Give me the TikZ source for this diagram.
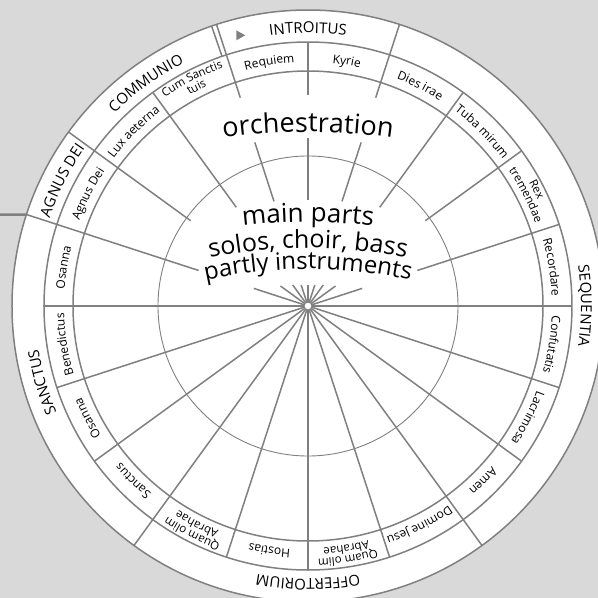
\documentclass[tikz,border=0pt]{standalone}
\usepackage{fontspec}
\setmainfont{Open Sans}
\usetikzlibrary{decorations.text}

\definecolor{rimgray}{RGB}{128,128,128}
\definecolor{bggray}{RGB}{217,217,217}

\tikzset{
    rim/.style={draw=rimgray, line width=1.5},
    thinrim/.style={draw=rimgray, line width=0.9},
}

% text along a circle round the hub, read clockwise
\newcommand{\ringtext}[4]{%
    \path[decorate, decoration={text along path, text align=center,
        text={|\fontsize{#3}{#3}\selectfont|#4}}]
        ({#1+40}:#2) arc[start angle={#1+40}, end angle={#1-40}, radius=#2];}

% text along a wide arc, its centre far below the hub
\newcommand{\archtext}[3]{%
    \path[decorate, decoration={text along path, text align=center,
        text={|\fontsize{#2}{#2}\selectfont|#3}}]
        (0,-441) ++(106:#1) arc[start angle=106, end angle=74, radius=#1];}

\begin{document}
\begin{tikzpicture}[x=1pt, y=1pt]
        % Background
        \fill[bggray] (-308,-292) rectangle (290,306);
        \useasboundingbox (-308,-292) rectangle (290,306);

        % Pointer from the left edge
        \coordinate (pin) at (162:296);
        \draw[rimgray, line width=2.5] (-312,91.5) -- (pin);

        % Rings
        \draw[rim, fill=white] (0,0) circle[radius=296];
        \draw[rim] (0,0) circle[radius=264];
        \draw[rim] (0,0) circle[radius=235];
        \draw[thinrim] (0,0) circle[radius=150];

        % Spokes, lower half
        \foreach \a in {0,180,198,216,252,270,288,324,342}
            \draw[rim] (0,0) -- (\a:264);
        \foreach \a in {234,306}
            \draw[rim] (0,0) -- (\a:296);

        % Spokes, upper half (broken by the text)
        \foreach \a/\rin/\rout/\rend in {18/57/115/264, 36/34/145/264, 54/26/122/264,
                126/26/122/264, 144/34/145/296, 162/57/115/296} {
            \draw[rim] (0,0) -- (\a:\rin);
            \draw[rim] (\a:\rout) -- (\a:\rend);
        }
        \foreach \a in {72,108} {
            \draw[rim] (0,0) -- (\a:22);
            \draw[rim] (\a:110) -- (\a:172);
            \draw[rim] (\a:219) -- (\a:296);
        }
        \draw[rim] (0,0) -- (90:21);
        \draw[rim] (90:106) -- (90:168);
        \draw[rim] (90:211) -- (90:264);

        % Start mark
        \draw[rim] (109:264) -- (109:296);
        \fill[rimgray] (104:280) ++(-4,4) -- ++(0,-10) -- ++(9,5) -- cycle;

        % Hub
        \draw[rim, fill=white, line width=1] (0,0) circle[radius=4];

        % Sections
        \ringtext{90}{273}{15}{INTROITUS}
        \ringtext{0}{273}{15}{SEQUENTIA}
        \ringtext{-90}{273}{15}{OFFERTORIUM}
        \ringtext{-164}{273}{15}{SANCTUS}
        \ringtext{153}{273}{15}{AGNUS DEI}
        \ringtext{126}{273}{15}{COMMUNIO}

        % Parts
        \ringtext{99}{244}{12}{Requiem}
        \ringtext{81}{244}{12}{Kyrie}
        \ringtext{63}{244}{12}{Dies irae}
        \ringtext{45}{244}{12}{Tuba mirum}
        \ringtext{27}{253}{11.5}{Rex}
        \ringtext{27}{242}{11.5}{tremendae}
        \ringtext{9}{244}{12}{Recordare}
        \ringtext{-9}{244}{12}{Confutatis}
        \ringtext{-27}{244}{12}{Lacrimosa}
        \ringtext{-45}{244}{12}{Amen}
        \ringtext{-63}{244}{12}{Domine Jesu}
        \ringtext{-81}{253}{11.5}{Quam olim}
        \ringtext{-81}{242}{11.5}{Abrahae}
        \ringtext{-99}{244}{12}{Hostias}
        \ringtext{-117}{253}{11.5}{Quam olim}
        \ringtext{-117}{242}{11.5}{Abrahae}
        \ringtext{-135}{244}{12}{Sanctus}
        \ringtext{-153}{244}{12}{Osanna}
        \ringtext{-171}{244}{12}{Benedictus}
        \ringtext{171}{244}{12}{Osanna}
        \ringtext{153}{244}{12}{Agnus Dei}
        \ringtext{135}{244}{12}{Lux aeterna}
        \ringtext{117}{253}{11.5}{Cum Sanctis}
        \ringtext{117}{242}{11.5}{tuis}

        % Middle
        \archtext{615}{27}{orchestration}
        \archtext{525}{26}{main parts}
        \archtext{499}{25}{solos, choir, bass}
        \archtext{478}{24}{partly instruments}
\end{tikzpicture}
\end{document}
